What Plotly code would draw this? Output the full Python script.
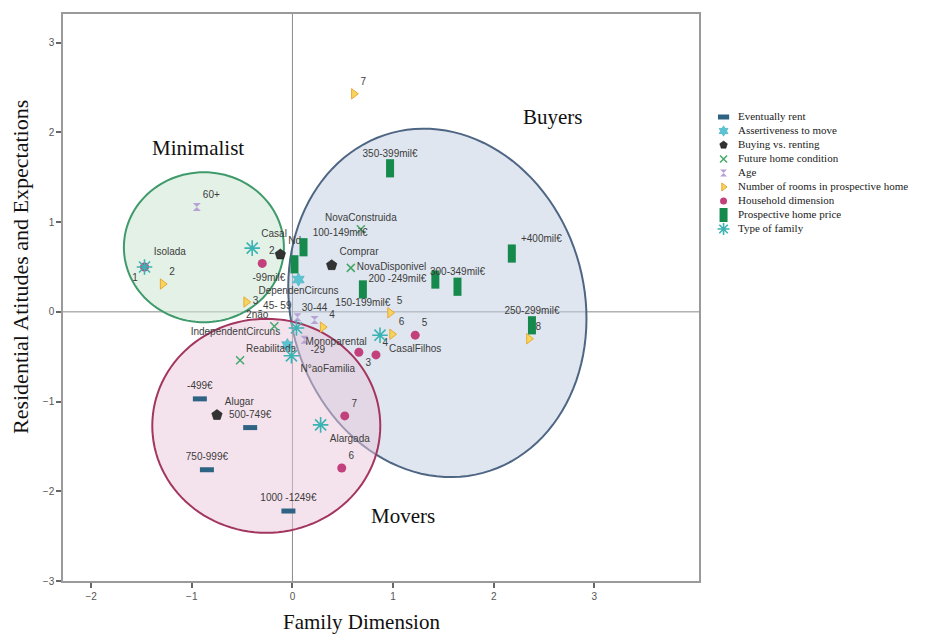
import numpy as np
import plotly.graph_objects as go

# --- data (dimension 1 = x, dimension 2 = y) ---
rent_labels = ["-499€", "500-749€", "750-999€", "1000 -1249€"]
rent_x = [-0.92, -0.42, -0.85, -0.04]
rent_y = [-0.97, -1.29, -1.76, -2.22]

assert_labels = ["DependenCircuns", "IndependentCircuns"]
assert_x = [0.06, -0.05]
assert_y = [0.36, -0.37]

buy_labels = ["Nd", "Comprar", "Alugar"]
buy_x = [-0.12, 0.39, -0.75]
buy_y = [0.64, 0.52, -1.15]

cond_labels = ["NovaConstruida", "NovaDisponivel", "2não", "Reabilitada"]
cond_x = [0.68, 0.58, -0.18, -0.52]
cond_y = [0.92, 0.49, -0.16, -0.54]

age_labels = ["60+", "45- 59", "30-44", "-29"]
age_x = [-0.95, 0.05, 0.22, 0.12]
age_y = [1.17, -0.06, -0.09, -0.31]

rooms_labels = ["2", "3", "4", "5", "6", "7", "8"]
rooms_x = [-1.29, -0.46, 0.30, 0.97, 0.99, 0.61, 2.35]
rooms_y = [0.31, 0.11, -0.17, -0.01, -0.25, 2.43, -0.30]

house_labels = ["1", "2", "3", "4", "5", "6", "7"]
house_x = [-1.47, -0.30, 0.66, 0.83, 1.22, 0.49, 0.52]
house_y = [0.50, 0.54, -0.45, -0.48, -0.26, -1.74, -1.16]

price_labels = ["-99mil€", "100-149mil€", "150-199mil€", "200 -249mil€",
                "250-299mil€", "300-349mil€", "350-399mil€", "+400mil€"]
price_x = [0.02, 0.11, 0.70, 1.42, 2.38, 1.64, 0.97, 2.18]
price_y = [0.53, 0.72, 0.25, 0.36, -0.15, 0.28, 1.60, 0.65]

family_labels = ["Isolada", "Casal", "Monoparental", "N°aoFamilia", "CasalFilhos", "Alargada"]
family_x = [-1.47, -0.40, 0.04, -0.01, 0.87, 0.28]
family_y = [0.50, 0.71, -0.18, -0.49, -0.26, -1.26]

x_ticks = [-2, -1, 0, 1, 2, 3]
y_ticks = [-3, -2, -1, 0, 1, 2, 3]

# clusters drawn as ellipses: centre (axis units), half-width / half-height in px, tilt in degrees
cluster_names = ["Minimalist", "Buyers", "Movers"]
cluster_cx = [-0.88, 1.44, -0.26]
cluster_cy = [0.72, 0.10, -1.27]
cluster_w = [80, 147, 114]
cluster_h = [75, 176, 107]
cluster_tilt = [0, 15, 0]
cluster_label_x = [-0.94, 2.59, 1.10]
cluster_label_y = [1.83, 2.17, -2.27]

# --- styling ---
rent_pos = ["top center"] * 4
assert_pos = ["bottom center", "top left"]
buy_pos = ["top right", "top right", "top right"]
cond_pos = ["top center", "middle right", "top left", "top right"]
age_pos = ["top right", "top left", "top center", "bottom right"]
rooms_pos = ["top right", "middle right", "top right", "top right", "top right", "top right", "top right"]
house_pos = ["bottom left", "top right", "bottom right", "top right", "top right", "top right", "top right"]
price_pos = ["bottom left", "top right", "bottom center", "middle left",
             "top center", "top center", "top center", "top right"]
family_pos = ["top right", "top right", "bottom right", "bottom right", "bottom right", "bottom right"]

cluster_line = ["#3f9a6c", "#4e6584", "#a3365f"]
cluster_fill = ["rgba(205,229,209,0.55)", "rgba(191,205,223,0.5)", "rgba(233,199,219,0.5)"]

serif = "Liberation Serif, Times New Roman, serif"
sans = "Liberation Sans, Arial, sans-serif"

series = [
    ("Eventually rent", rent_labels, rent_x, rent_y, rent_pos,
     dict(symbol="line-ew", size=10, color="#2f6384", line=dict(width=5, color="#2f6384"))),
    ("Assertiveness to move", assert_labels, assert_x, assert_y, assert_pos,
     dict(symbol="hexagram", size=10, color="#5cc3d3", line=dict(width=0.5, color="#3aa9bb"))),
    ("Buying vs. renting", buy_labels, buy_x, buy_y, buy_pos,
     dict(symbol="pentagon", size=11, color="#333333", line=dict(width=0.5, color="#111111"))),
    ("Future home condition", cond_labels, cond_x, cond_y, cond_pos,
     dict(symbol="x-thin-open", size=8, color="#44a86a", line=dict(width=1.5, color="#44a86a"))),
    ("Age", age_labels, age_x, age_y, age_pos,
     dict(symbol="hourglass", size=8, color="#b7a2d6", line=dict(width=0))),
    ("Number of rooms in prospective home", rooms_labels, rooms_x, rooms_y, rooms_pos,
     dict(symbol="triangle-right", size=9, color="#f6d55c", line=dict(width=1, color="#e9a93a"))),
    ("Household dimension", house_labels, house_x, house_y, house_pos,
     dict(symbol="circle", size=9, color="#c2407c", line=dict(width=0))),
    ("Prospective home price", price_labels, price_x, price_y, price_pos,
     dict(symbol="line-ns", size=13, color="#168a4c", line=dict(width=8, color="#168a4c"))),
    ("Type of family", family_labels, family_x, family_y, family_pos,
     dict(symbol="asterisk-open", size=13, color="#3cb3b3", line=dict(width=1.6, color="#3cb3b3"))),
]

# the page adds an 8px body margin at top/left, so the figure is drawn shifted by 8px
W, H = 910, 626
ml, mr, mt, mb = 55, 2, 6, 53
pw = W - ml - mr
ph = H - mt - mb
plot_w, plot_h = 636, 567
xr = [-2.28, 4.04]
yr = [-3.0, 3.32]
sx = plot_w / (xr[1] - xr[0])   # px per unit
sy = plot_h / (yr[1] - yr[0])
plot_bottom = H - mb

fig = go.Figure()

for i, nm in enumerate(cluster_names):
    t = np.linspace(0, 2 * np.pi, 121)
    a = np.radians(cluster_tilt[i])
    dx = cluster_w[i] * np.cos(t) * np.cos(a) + cluster_h[i] * np.sin(t) * np.sin(a)
    dy = -cluster_w[i] * np.cos(t) * np.sin(a) + cluster_h[i] * np.sin(t) * np.cos(a)
    px = cluster_cx[i] + dx / sx
    py = cluster_cy[i] - dy / sy
    path = "M " + " L ".join(f"{u:.4f},{v:.4f}" for u, v in zip(px, py)) + " Z"
    fig.add_shape(type="path", path=path, xref="x", yref="y", layer="below",
                  line=dict(color=cluster_line[i], width=2), fillcolor=cluster_fill[i])
    fig.add_annotation(x=cluster_label_x[i], y=cluster_label_y[i], text=nm, showarrow=False,
                       font=dict(family=serif, size=21, color="#111111"))

for i, (name, labels, xs, ys, pos, marker) in enumerate(series):
    fig.add_trace(go.Scatter(
        x=xs, y=ys, mode="markers+text", name=name,
        text=labels, textposition=pos,
        textfont=dict(family=sans, size=10, color="#3c3c3c"),
        marker=marker, cliponaxis=False, showlegend=False,
    ))
    # legend entry, drawn on its own small axis pair to the right
    key = dict(marker)
    key["size"] = max(7, int(marker["size"] * 0.8))
    fig.add_trace(go.Scatter(
        x=[0], y=[i], xaxis="x2", yaxis="y2", mode="markers",
        marker=key, showlegend=False, hoverinfo="skip", cliponaxis=False,
    ))
    fig.add_trace(go.Scatter(
        x=[0.075], y=[i], xaxis="x2", yaxis="y2", mode="text",
        text=[name], textposition="middle right",
        textfont=dict(family=serif, size=11, color="#222222"),
        showlegend=False, hoverinfo="skip", cliponaxis=False,
    ))

# reference lines through the origin
fig.add_shape(type="line", xref="x", yref="y domain", x0=0, x1=0, y0=0, y1=1,
              line=dict(color="#8a8a8a", width=1), layer="below")
fig.add_shape(type="line", xref="x domain", yref="y", x0=0, x1=1, y0=0, y1=0,
              line=dict(color="#8a8a8a", width=1), layer="below")

# axis titles (the reference places them slightly off-centre)
fig.add_annotation(text="Family Dimension", xref="paper", yref="paper",
                   x=(353 - ml) / pw, y=(plot_bottom - 614) / ph,
                   xanchor="center", yanchor="middle", showarrow=False,
                   font=dict(family=serif, size=21, color="#111111"))
fig.add_annotation(text="Residential Atitudes and Expectations", xref="paper", yref="paper",
                   x=(12 - ml) / pw, y=(plot_bottom - 259) / ph, textangle=-90,
                   xanchor="center", yanchor="middle", showarrow=False,
                   font=dict(family=serif, size=22, color="#111111"))

axis_common = dict(
    showgrid=False, zeroline=False, showline=True, mirror=True,
    linecolor="#9a9a9a", linewidth=1.5, automargin=False,
    ticks="outside", ticklen=5, tickcolor="#666666", tickwidth=1.5,
    tickfont=dict(family=sans, size=10, color="#555555"),
)

fig.update_layout(
    width=W, height=H,
    margin=dict(l=ml, r=mr, t=mt, b=mb),
    plot_bgcolor="white", paper_bgcolor="white",
    showlegend=False,
    xaxis=dict(domain=[0, plot_w / pw], range=xr, tickvals=x_ticks, **axis_common),
    yaxis=dict(domain=[(ph - plot_h) / ph, 1], range=yr, tickvals=y_ticks, **axis_common),
    xaxis2=dict(domain=[(704 - ml) / pw, 1], range=[-0.06, 1], visible=False,
                anchor="y2", fixedrange=True),
    yaxis2=dict(domain=[(plot_bottom - 228) / ph, (plot_bottom - 102) / ph], range=[8.5, -0.5],
                visible=False, anchor="x2", fixedrange=True),
)

fig.write_html("out.html")
